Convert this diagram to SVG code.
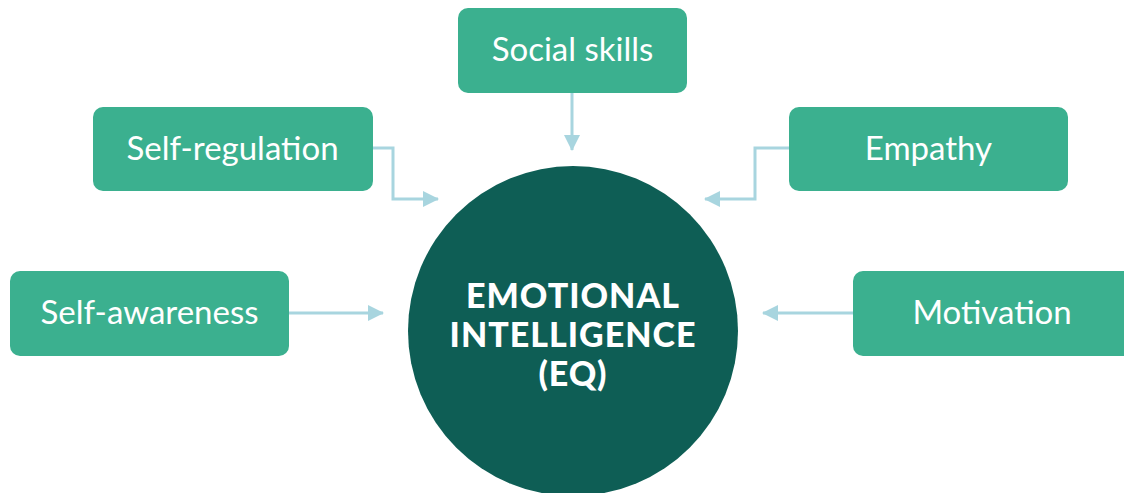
<svg xmlns="http://www.w3.org/2000/svg" width="1124" height="493" viewBox="0 0 1124 493">
  <defs>
    <style>
      .box { fill: #3bb08f; }
      .label { font-family: Lato, "Open Sans", sans-serif; font-size: 33px; fill: #ffffff; text-anchor: middle; }
      .core { fill: #0e5e55; }
      .title { font-family: Lato, "Open Sans", sans-serif; font-weight: 900; font-size: 34px; fill: #ffffff; text-anchor: middle; letter-spacing: 1px; }
      .link { fill: none; stroke: #a8d5df; stroke-width: 3; }
    </style>
    <marker id="arrow" viewBox="0 0 16 16" refX="15" refY="8" markerWidth="16" markerHeight="16" markerUnits="userSpaceOnUse" orient="auto">
      <path d="M0,0 L16,8 L0,16 Z" fill="#a8d5df"/>
    </marker>
  </defs>

  <rect width="1124" height="493" fill="#ffffff"/>

  <g id="connectors">
    <path class="link" d="M572,93 V150" marker-end="url(#arrow)"/>
    <path class="link" d="M372,148 H393 V199 H438" marker-end="url(#arrow)"/>
    <path class="link" d="M789,148 H755 V199 H705" marker-end="url(#arrow)"/>
    <path class="link" d="M289,313 H383" marker-end="url(#arrow)"/>
    <path class="link" d="M853,313 H763" marker-end="url(#arrow)"/>
  </g>

  <g id="eq">
    <circle class="core" cx="573" cy="331" r="165"/>
    <text class="title" x="573" y="308">EMOTIONAL</text>
    <text class="title" x="573" y="347">INTELLIGENCE</text>
    <text class="title" x="573" y="386">(EQ)</text>
  </g>

  <g id="social-skills">
    <rect class="box" x="458" y="8" width="229" height="85" rx="10"/>
    <text class="label" x="572.5" y="61">Social skills</text>
  </g>

  <g id="self-regulation">
    <rect class="box" x="93" y="107" width="280" height="84" rx="10"/>
    <text class="label" x="232.5" y="160">Self-regulation</text>
  </g>

  <g id="empathy">
    <rect class="box" x="789" y="107" width="279" height="84" rx="10"/>
    <text class="label" x="928.5" y="160">Empathy</text>
  </g>

  <g id="self-awareness">
    <rect class="box" x="10" y="271" width="279" height="85" rx="10"/>
    <text class="label" x="149.5" y="324">Self-awareness</text>
  </g>

  <g id="motivation">
    <rect class="box" x="853" y="271" width="281" height="85" rx="10"/>
    <text class="label" x="992" y="324">Motivation</text>
  </g>
</svg>
